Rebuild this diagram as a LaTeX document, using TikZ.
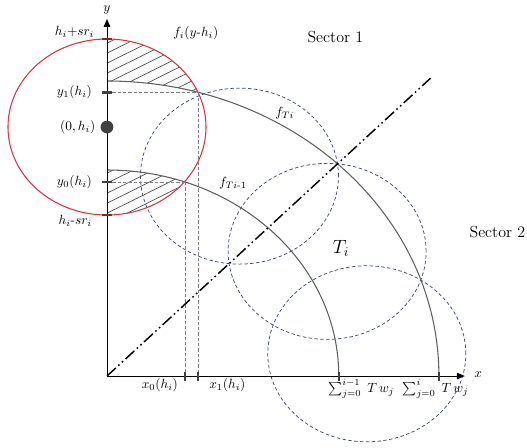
\documentclass[tikz,border=0pt]{standalone}
\usepackage{amsmath}
\usetikzlibrary{arrows.meta}

\definecolor{ringred}{RGB}{214,52,66}
\definecolor{tickred}{RGB}{150,30,35}
\definecolor{zoneblue}{RGB}{62,76,112}
\definecolor{arcgray}{RGB}{95,95,95}

\begin{document}
\begin{tikzpicture}[
    x=0.84375pt, y=0.75pt,
    axisline/.style={-{Triangle[length=6pt, width=5pt]}, line width=0.6pt},
    levelarc/.style={draw=arcgray, line width=0.8pt},
    ringline/.style={draw=ringred, line width=0.8pt},
    zone/.style={draw=zoneblue, dash pattern=on 2.6pt off 1.8pt, line width=0.55pt},
    guide/.style={draw=black!50, dash pattern=on 2.5pt off 1.5pt, line width=0.7pt},
    hatchline/.style={draw=black!70, line width=0.5pt},
    tickmark/.style={line width=2pt},
    diagline/.style={line width=1.1pt, dash pattern=on 9pt off 2.5pt on 1.2pt off 2.5pt on 1.2pt off 2.5pt},
    lbl/.style={inner sep=1pt}
]
\useasboundingbox (-95.1,-71) rectangle (373.3,376);

% key points
\coordinate (origin) at (0,0);
\coordinate (xend) at (318,0);
\coordinate (yend) at (0,357);
\coordinate (hcenter) at (0,249);
\coordinate (htop) at (0,337);
\coordinate (hbot) at (0,161);
\coordinate (y1) at (0,283.7);
\coordinate (y0) at (0,194);
\coordinate (p1) at (80.9,283.7);
\coordinate (p0) at (69.3,194);
\coordinate (x1) at (80.9,0);
\coordinate (x0) at (69.3,0);
\coordinate (outer_top) at (0,295);
\coordinate (inner_top) at (0,206);
\coordinate (s0) at (206,0);
\coordinate (s1) at (295,0);
\coordinate (diagend) at (46:414);

% neighbour zones
\draw[zone] (59.5:232) circle[radius=88];
\draw[zone] (32.5:232) circle[radius=88];
\draw[zone] (5.5:232) circle[radius=88];

% hatched parts of the red circle
\begin{scope}
  \clip (outer_top) arc[start angle=90, end angle=74.08, radius=295]
        arc[start angle=23.22, end angle=90, radius=88] -- cycle;
  \foreach \k in {100,110,...,340}
    \draw[hatchline] (-5,\k) -- ++(100,56);
\end{scope}
\begin{scope}
  \clip (inner_top) arc[start angle=90, end angle=70.34, radius=206]
        arc[start angle=-38.44, end angle=-90, radius=88] -- cycle;
  \foreach \k in {100,110,...,220}
    \draw[hatchline] (-5,\k) -- ++(100,56);
\end{scope}

% level arcs
\draw[levelarc] (outer_top) arc[start angle=90, end angle=0, radius=295];
\draw[levelarc] (inner_top) arc[start angle=90, end angle=0, radius=206];

\draw[ringline] (hcenter) circle[radius=88];

% guides
\draw[guide] (y1) -- (p1);
\draw[guide] (y0) -- (p0);
\draw[guide] (p1) -- (x1);
\draw[guide] (p0) -- (x0);

\draw[diagline] (origin) -- (diagend);

% axes
\draw[axisline] (origin) -- (xend);
\draw[axisline] (origin) -- (yend);

% ticks
\draw[tickmark, tickred] ([xshift=-4pt]htop) -- ([xshift=4pt]htop);
\draw[tickmark, tickred] ([xshift=-4pt]hbot) -- ([xshift=4pt]hbot);
\draw[tickmark, black!75] ([xshift=-4pt]y1) -- ([xshift=4pt]y1);
\draw[tickmark, black!75] ([xshift=-4pt]y0) -- ([xshift=4pt]y0);
\foreach \p in {x0,x1,s0,s1}
  \draw[line width=1.8pt, black!75] ([yshift=-3.5pt]\p) -- ([yshift=3pt]\p);

\node[circle, fill=black!75, inner sep=0pt, minimum size=9.6pt] (hdot) at (hcenter) {};

% labels
\node[lbl] (l_y) at (0,366) {$y$};
\node[lbl] (l_x) at (330,1) {$x$};
\node[lbl, anchor=east] (l_htop) at (-10,344) {$h_i{+}sr_i$};
\node[lbl, anchor=east] (l_y1) at (-12,283.7) {$y_1(h_i)$};
\node[lbl, anchor=east] (l_hc) at (-9,249) {$(0,h_i)$};
\node[lbl, anchor=east] (l_y0) at (-12,194) {$y_0(h_i)$};
\node[lbl, anchor=east] (l_hbot) at (-12,155) {$h_i$-$sr_i$};
\node[lbl] (l_fi) at (79,343) {$f_i(y$-$h_i)$};
\node[lbl] (l_fti) at (158,263) {$f_{Ti}$};
\node[lbl] (l_fti1) at (112,193) {$f_{Ti\text{-}1}$};
\node[lbl, font=\Large] (l_ti) at (208,128) {$T_i$};
\node[lbl, font=\large] (sector1) at (203,339) {Sector 1};
\node[lbl, font=\large] (sector2) at (347,144) {Sector 2};
\node[lbl] (l_x0) at (47,-9) {$x_0(h_i)$};
\node[lbl] (l_x1) at (107,-9) {$x_1(h_i)$};
\node[lbl] (l_s0) at (226,-13) {$\sum_{j=0}^{i-1}\;T\,w_j$};
\node[lbl] (l_s1) at (292,-13) {$\sum_{j=0}^{i}\;T\,w_j$};

\end{tikzpicture}
\end{document}
